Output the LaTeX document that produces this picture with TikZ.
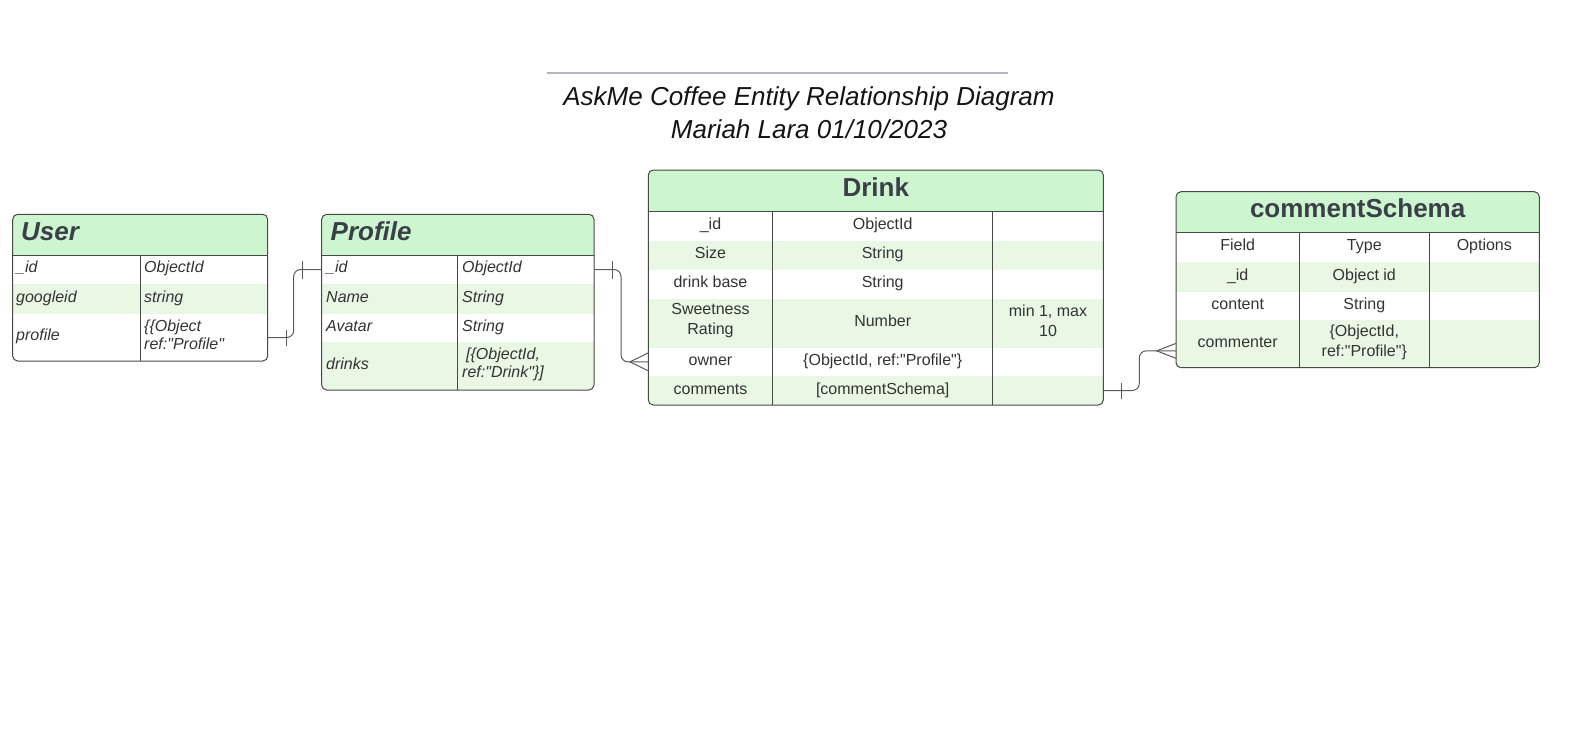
\documentclass[tikz,border=0pt]{standalone}
\usepackage{fontspec}
\setmainfont{Liberation Sans}[Ligatures=TeXOff]
\usetikzlibrary{calc}
\definecolor{hdr}{RGB}{205,245,208}
\definecolor{alt}{RGB}{232,248,228}
\definecolor{bord}{RGB}{72,72,72}
\definecolor{txt}{RGB}{51,51,51}
\definecolor{htxt}{RGB}{58,64,72}
\definecolor{conncol}{RGB}{90,90,90}
\definecolor{rulecol}{RGB}{180,184,190}
\begin{document}
\begin{tikzpicture}[x=1pt,y=-1pt,
  cell/.style={inner sep=0pt, outer sep=0pt, draw=none},
  bt/.style={inner sep=0pt, text=txt, font=\fontsize{16}{20}\selectfont},
  it/.style={inner sep=0pt, text=txt, font=\fontsize{16}{18}\selectfont\itshape, anchor=west, align=left},
  ct/.style={bt, align=center},
  one/.style={text height=11.6pt, text depth=3.4pt, yshift=1pt},
  ih/.style={inner sep=0pt, anchor=base west, text=htxt, font=\fontsize{26}{30}\selectfont\bfseries\itshape},
  ch/.style={inner sep=0pt, anchor=base, text=htxt, font=\fontsize{26}{30}\selectfont\bfseries},
  frame/.style={draw=bord, line width=1pt, rounded corners=5pt},
  gridline/.style={draw=bord, line width=0.8pt},
  conn/.style={draw=conncol, line width=1pt, rounded corners=7pt},
  mark1/.style={draw=conncol, line width=1pt},
  titletext/.style={inner sep=0pt, anchor=base, text={rgb,255:red,20;green,20;blue,20}, font=\fontsize{26}{30}\selectfont\itshape}
]
\useasboundingbox (0,0) rectangle (1576,736);

% ---------- Title ----------
\coordinate (tl) at (547,73);
\coordinate (tr) at (1008,73);
\draw[draw=rulecol, line width=2pt] (tl) -- (tr);
\node[titletext] (t1) at (809,105) {AskMe Coffee Entity Relationship Diagram};
\node[titletext] (t2) at (809,138) {Mariah Lara 01/10/2023};

% ---------- User ----------
\begin{scope}
\clip[rounded corners=5pt] (12.7,214.3) rectangle (267.7,361);
\node[cell, fill=hdr, minimum width=255pt, minimum height=40.7pt] (user) at (140.2,234.65) {};
\node[cell, minimum width=255pt, minimum height=29pt] (u1) at (140.2,269.5) {};
\node[cell, fill=alt, minimum width=255pt, minimum height=30pt] (u2) at (140.2,299) {};
\node[cell, minimum width=255pt, minimum height=47pt] (u3) at (140.2,337.5) {};
\end{scope}
\draw[gridline] (user.south west) -- (user.south east);
\draw[gridline] (140,255) -- (140,361);
\draw[frame] (12.7,214.3) rectangle (267.7,361);
\node[ih] (userT) at (21,240) {User};
\node[it,one] (u1a) at (16,269.5) {\_id};
\node[it,one] (u1b) at (144,269.5) {ObjectId};
\node[it,one] (u2a) at (16,299) {googleid};
\node[it,one] (u2b) at (144,299) {string};
\node[it,one] (u3a) at (16,337.5) {profile};
\node[it] (u3b) at (144,335) {\{\{Object\\ref:"Profile"};

% ---------- Profile ----------
\begin{scope}
\clip[rounded corners=5pt] (321.7,214.3) rectangle (594,390);
\node[cell, fill=hdr, minimum width=272.3pt, minimum height=40.7pt] (profile) at (457.85,234.65) {};
\node[cell, minimum width=272.3pt, minimum height=29pt] (p1) at (457.85,269.5) {};
\node[cell, fill=alt, minimum width=272.3pt, minimum height=30pt] (p2) at (457.85,299) {};
\node[cell, minimum width=272.3pt, minimum height=28pt] (p3) at (457.85,328) {};
\node[cell, fill=alt, minimum width=272.3pt, minimum height=48pt] (p4) at (457.85,366) {};
\end{scope}
\draw[gridline] (profile.south west) -- (profile.south east);
\draw[gridline] (457.7,255) -- (457.7,390);
\draw[frame] (321.7,214.3) rectangle (594,390);
\node[ih] (profileT) at (330.5,240) {Profile};
\node[it,one] (p1a) at (326,269.5) {\_id};
\node[it,one] (p1b) at (462,269.5) {ObjectId};
\node[it,one] (p2a) at (326,299) {Name};
\node[it,one] (p2b) at (462,299) {String};
\node[it,one] (p3a) at (326,328) {Avatar};
\node[it,one] (p3b) at (462,328) {String};
\node[it,one] (p4a) at (326,366) {drinks};
\node[it] (p4b) at (462,364) {\hspace{4pt}[\{ObjectId,\\ref:"Drink"\}]};

% ---------- Drink ----------
\begin{scope}
\clip[rounded corners=5pt] (648.3,170) rectangle (1103.3,405);
\node[cell, fill=hdr, minimum width=455pt, minimum height=41.7pt] (drink) at (875.8,190.85) {};
\node[cell, minimum width=455pt, minimum height=29.3pt] (d1) at (875.8,226.35) {};
\node[cell, fill=alt, minimum width=455pt, minimum height=29pt] (d2) at (875.8,255.5) {};
\node[cell, minimum width=455pt, minimum height=29pt] (d3) at (875.8,284.5) {};
\node[cell, fill=alt, minimum width=455pt, minimum height=48.7pt] (d4) at (875.8,323.35) {};
\node[cell, minimum width=455pt, minimum height=28.3pt] (d5) at (875.8,361.85) {};
\node[cell, fill=alt, minimum width=455pt, minimum height=29pt] (d6) at (875.8,390.5) {};
\end{scope}
\draw[gridline] (drink.south west) -- (drink.south east);
\draw[gridline] (772.7,211.7) -- (772.7,405);
\draw[gridline] (992.7,211.7) -- (992.7,405);
\draw[frame] (648.3,170) rectangle (1103.3,405);
\node[ch] (drinkT) at (875.8,196) {Drink};
\node[ct,one] (d1a) at (710.5,226.5) {\_id};
\node[ct,one] (d1b) at (882.7,226.5) {ObjectId};
\node[ct,one] (d2a) at (710.5,255.5) {Size};
\node[ct,one] (d2b) at (882.7,255.5) {String};
\node[ct,one] (d3a) at (710.5,284.5) {drink base};
\node[ct,one] (d3b) at (882.7,284.5) {String};
\node[ct] (d4a) at (710.5,321) {Sweetness\\Rating};
\node[ct,one] (d4b) at (882.7,323.5) {Number};
\node[ct] (d4c) at (1048,321) {min 1, max\\10};
\node[ct,one] (d5a) at (710.5,362) {owner};
\node[ct,one] (d5b) at (882.7,362) {\{ObjectId, ref:"Profile"\}};
\node[ct,one] (d6a) at (710.5,391) {comments};
\node[ct,one] (d6b) at (882.7,391) {[commentSchema]};

% ---------- commentSchema ----------
\begin{scope}
\clip[rounded corners=5pt] (1176,191.7) rectangle (1539.3,367.7);
\node[cell, fill=hdr, minimum width=363.3pt, minimum height=40.6pt] (comment) at (1357.65,212) {};
\node[cell, minimum width=363.3pt, minimum height=30pt] (c1) at (1357.65,247.3) {};
\node[cell, fill=alt, minimum width=363.3pt, minimum height=29.4pt] (c2) at (1357.65,277) {};
\node[cell, minimum width=363.3pt, minimum height=28.3pt] (c3) at (1357.65,305.85) {};
\node[cell, fill=alt, minimum width=363.3pt, minimum height=47.7pt] (c4) at (1357.65,343.85) {};
\end{scope}
\draw[gridline] (comment.south west) -- (comment.south east);
\draw[gridline] (1299.3,232.3) -- (1299.3,367.7);
\draw[gridline] (1429.3,232.3) -- (1429.3,367.7);
\draw[frame] (1176,191.7) rectangle (1539.3,367.7);
\node[ch] (commentT) at (1357.65,217) {commentSchema};
\node[ct,one] (c1a) at (1237.7,247.5) {Field};
\node[ct,one] (c1b) at (1364.3,247.5) {Type};
\node[ct,one] (c1c) at (1484.3,247.5) {Options};
\node[ct,one] (c2a) at (1237.7,277) {\_id};
\node[ct,one] (c2b) at (1364.3,277) {Object id};
\node[ct,one] (c3a) at (1237.7,306) {content};
\node[ct,one] (c3b) at (1364.3,306) {String};
\node[ct,one] (c4a) at (1237.7,344) {commenter};
\node[ct] (c4b) at (1364.3,342) {\{ObjectId,\\ref:"Profile"\}};

% ---------- Connectors ----------
% User.profile -> Profile._id (one to one)
\draw[conn] (u3.east) -- ++(26,0) |- (p1.west);
\draw[mark1] ($(u3.east)+(18.3,-8)$) -- ++(0,16);
\draw[mark1] ($(p1.west)+(-19,-9)$) -- ++(0,18);
% Profile._id -> Drink.owner (one to many)
\draw[conn] (p1.east) -- ++(27,0) |- (d5.west);
\draw[mark1] ($(p1.east)+(18.7,-9)$) -- ++(0,18);
\draw[mark1] ($(d5.west)+(0,-9)$) -- ($(d5.west)+(-18.3,0)$) -- ($(d5.west)+(0,9)$);
% Drink.comments -> commentSchema.commenter (one to many)
\draw[conn] (d6.east) -- ++(36,0) |- ($(c4.west)+(0,7)$);
\draw[mark1] ($(d6.east)+(18.4,-8)$) -- ++(0,16);
\draw[mark1] ($(c4.west)+(0,-0.5)$) -- ($(c4.west)+(-19.3,7)$) -- ($(c4.west)+(0,14.5)$);
\end{tikzpicture}
\end{document}
